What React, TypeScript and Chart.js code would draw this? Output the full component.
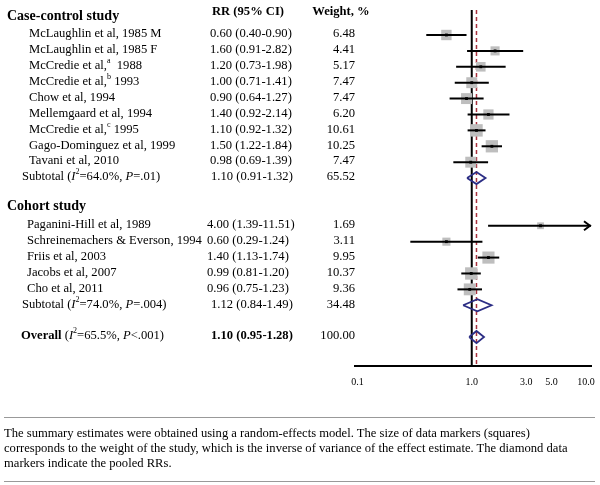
import React, { useEffect, useRef } from "react";
import { Chart, registerables } from "chart.js";

Chart.register(...registerables);

// ---------- data ----------
const caseStudies = [
  "McLaughlin et al, 1985 M",
  "McLaughlin et al, 1985 F",
  "McCredie et al,^a  1988",
  "McCredie et al,^b 1993",
  "Chow et al, 1994",
  "Mellemgaard et al, 1994",
  "McCredie et al,^c 1995",
  "Gago-Dominguez et al, 1999",
  "Tavani et al, 2010",
];
const caseRR = [0.6, 1.6, 1.2, 1.0, 0.9, 1.4, 1.1, 1.5, 0.98];
const caseLower = [0.4, 0.91, 0.73, 0.71, 0.64, 0.92, 0.92, 1.22, 0.69];
const caseUpper = [0.9, 2.82, 1.98, 1.41, 1.27, 2.14, 1.32, 1.84, 1.39];
const caseWeight = [6.48, 4.41, 5.17, 7.47, 7.47, 6.2, 10.61, 10.25, 7.47];
const caseRows = [0, 1, 2, 3, 4, 5, 6, 7, 8];

const cohortStudies = [
  "Paganini-Hill et al, 1989",
  "Schreinemachers & Everson, 1994",
  "Friis et al, 2003",
  "Jacobs et al, 2007",
  "Cho et al, 2011",
];
const cohortRR = [4.0, 0.6, 1.4, 0.99, 0.96];
const cohortLower = [1.39, 0.29, 1.13, 0.81, 0.75];
const cohortUpper = [11.51, 1.24, 1.74, 1.2, 1.23];
const cohortWeight = [1.69, 3.11, 9.95, 10.37, 9.36];
const cohortRows = [12, 13, 14, 15, 16];

const pooledLabels = [
  "Subtotal (*I*^2=64.0%, *P*=.01)",
  "Subtotal (*I*^2=74.0%, *P*=.004)",
  "**Overall** (*I*^2=65.5%, *P*<.001)",
];
const pooledRR = [1.1, 1.12, 1.1];
const pooledLower = [0.91, 0.84, 0.95];
const pooledUpper = [1.32, 1.49, 1.28];
const pooledWeight = [65.52, 34.48, 100.0];
const pooledRows = [9, 17, 19];

const sectionTitles = ["Case-control study", "Cohort study"];
const sectionRows = [-1.2, 10.8];
const columnTitles = ["RR (95% CI)", "Weight, %"];
const columnRow = -1.45;

const xTicks = [0.1, 1, 3, 5, 10];
const nullValue = 1.0;
const pooledLineValue = 1.1;

const footerLines = [
  "The summary estimates were obtained using a random-effects model. The size of data markers (squares)",
  "corresponds to the weight of the study, which is the inverse of variance of the effect estimate. The diamond data",
  "markers indicate the pooled RRs.",
];

// ---------- style / layout ----------
const FONT = '"Liberation Serif", "Times New Roman", serif';
const X_MIN = 0.0951;
const X_MAX = 11.06;
const Y_MIN = -1.572;
const Y_MAX = 20.82;
const DIAMOND_HALF = 0.38;
const NAVY = "#2b2d84";
const RED = "#a8323e";
const GREY = "#bebebe";
const TXT = 12.6;

type Seg = { t: string; b?: boolean; i?: boolean; sup?: boolean };
function parseMarkup(s: string): Seg[] {
  const out: Seg[] = [];
  const re = /\*\*(.+?)\*\*|\*(.+?)\*|\^(.)/g;
  let last = 0;
  let m: RegExpExecArray | null;
  while ((m = re.exec(s))) {
    if (m.index > last) out.push({ t: s.slice(last, m.index) });
    if (m[1] !== undefined) out.push({ t: m[1], b: true });
    else if (m[2] !== undefined) out.push({ t: m[2], i: true });
    else out.push({ t: m[3], sup: true });
    last = re.lastIndex;
  }
  if (last < s.length) out.push({ t: s.slice(last) });
  return out;
}

function drawRich(
  ctx: CanvasRenderingContext2D,
  markup: string,
  x: number,
  y: number,
  size: number,
  opts: { bold?: boolean; align?: "left" | "right" | "center" } = {}
) {
  const segs = parseMarkup(markup);
  const fontOf = (s: Seg) => {
    const sz = s.sup ? Math.round(size * 0.62) : size;
    const b = s.b || opts.bold ? "bold " : "";
    const it = s.i ? "italic " : "";
    return `${it}${b}${sz}px ${FONT}`;
  };
  let total = 0;
  for (const s of segs) {
    ctx.font = fontOf(s);
    total += ctx.measureText(s.t).width;
  }
  let cx = x;
  if (opts.align === "right") cx = x - total;
  else if (opts.align === "center") cx = x - total / 2;
  ctx.textAlign = "left";
  ctx.textBaseline = "middle";
  for (const s of segs) {
    ctx.font = fontOf(s);
    ctx.fillText(s.t, cx, s.sup ? y - size * 0.38 : y);
    cx += ctx.measureText(s.t).width;
  }
}

const fmt = (v: number) => v.toFixed(2);

export default function App() {
  const ref = useRef<HTMLCanvasElement>(null);

  useEffect(() => {
    const studyRR = [...caseRR, ...cohortRR];
    const studyLower = [...caseLower, ...cohortLower];
    const studyUpper = [...caseUpper, ...cohortUpper];
    const studyWeight = [...caseWeight, ...cohortWeight];
    const studyRows = [...caseRows, ...cohortRows];

    const datasets: any[] = [];

    // reference lines
    datasets.push({
      data: [
        { x: nullValue, y: Y_MIN },
        { x: nullValue, y: Y_MAX },
      ],
      showLine: true,
      borderColor: "#000",
      borderWidth: 2,
      pointRadius: 0,
      order: 10,
    });
    datasets.push({
      data: [
        { x: pooledLineValue, y: Y_MIN },
        { x: pooledLineValue, y: Y_MAX },
      ],
      showLine: true,
      borderColor: RED,
      borderWidth: 1.5,
      borderDash: [4, 3],
      pointRadius: 0,
      order: 9,
    });

    // squares (weight-sized)
    datasets.push({
      data: studyRR.map((v, i) => ({ x: v, y: studyRows[i] })),
      pointStyle: "rect",
      pointRadius: studyWeight.map((w) => (3 + 2.9 * Math.sqrt(w)) / Math.SQRT2),
      backgroundColor: GREY,
      borderWidth: 0,
      order: 8,
    });

    // CI lines
    studyRR.forEach((_, i) => {
      datasets.push({
        data: [
          { x: studyLower[i], y: studyRows[i] },
          { x: studyUpper[i], y: studyRows[i] },
        ],
        showLine: true,
        borderColor: "#000",
        borderWidth: 2,
        pointRadius: 0,
        order: 5,
      });
    });

    // centre dots
    datasets.push({
      data: studyRR.map((v, i) => ({ x: v, y: studyRows[i] })),
      pointStyle: "rect",
      pointRadius: 2,
      backgroundColor: "#000",
      borderWidth: 0,
      order: 2,
    });

    // diamonds
    pooledRR.forEach((v, i) => {
      const r = pooledRows[i];
      datasets.push({
        data: [
          { x: pooledLower[i], y: r },
          { x: v, y: r - DIAMOND_HALF },
          { x: pooledUpper[i], y: r },
          { x: v, y: r + DIAMOND_HALF },
          { x: pooledLower[i], y: r },
        ],
        showLine: true,
        borderColor: NAVY,
        borderWidth: 1.8,
        pointRadius: 0,
        fill: false,
        order: 1,
      });
    });

    const textPlugin = {
      id: "forestText",
      afterDraw(chart: any) {
        const ctx: CanvasRenderingContext2D = chart.ctx;
        const ys = (r: number) => chart.scales.y.getPixelForValue(r);
        const xs = chart.scales.x;
        ctx.save();
        ctx.fillStyle = "#000";

        // arrows for CIs beyond axis
        studyUpper.forEach((u, i) => {
          if (u > xs.max) {
            const tx = chart.chartArea.right - 1;
            const ty = ys(studyRows[i]);
            ctx.strokeStyle = "#000";
            ctx.lineWidth = 2;
            ctx.beginPath();
            ctx.moveTo(tx - 6, ty - 4.5);
            ctx.lineTo(tx, ty);
            ctx.lineTo(tx - 6, ty + 4.5);
            ctx.stroke();
          }
        });

        // column headers
        drawRich(ctx, columnTitles[0], 212, ys(columnRow), TXT, { bold: true });
        drawRich(ctx, columnTitles[1], 341, ys(columnRow), TXT, { bold: true, align: "center" });
        // section headers
        sectionTitles.forEach((t, i) => drawRich(ctx, t, 7, ys(sectionRows[i]), 14, { bold: true }));

        caseStudies.forEach((s, i) => {
          const y = ys(caseRows[i]) - 1;
          drawRich(ctx, s, 29, y, TXT);
          drawRich(ctx, `${fmt(caseRR[i])} (${fmt(caseLower[i])}-${fmt(caseUpper[i])})`, 210, y, TXT);
          drawRich(ctx, fmt(caseWeight[i]), 355, y, TXT, { align: "right" });
        });
        cohortStudies.forEach((s, i) => {
          const y = ys(cohortRows[i]) - 1;
          drawRich(ctx, s, 27, y, TXT);
          drawRich(ctx, `${fmt(cohortRR[i])} (${fmt(cohortLower[i])}-${fmt(cohortUpper[i])})`, 207, y, TXT);
          drawRich(ctx, fmt(cohortWeight[i]), 355, y, TXT, { align: "right" });
        });
        pooledLabels.forEach((s, i) => {
          const y = ys(pooledRows[i]) - 1;
          const isOverall = i === pooledLabels.length - 1;
          drawRich(ctx, s, isOverall ? 21 : 22, y, TXT);
          drawRich(ctx, `${fmt(pooledRR[i])} (${fmt(pooledLower[i])}-${fmt(pooledUpper[i])})`, 211, y, TXT, {
            bold: isOverall,
          });
          drawRich(ctx, fmt(pooledWeight[i]), 355, y, TXT, { align: "right" });
        });
        ctx.restore();
      },
    };

    const chart = new Chart(ref.current!, {
      type: "scatter",
      data: { datasets },
      options: {
        responsive: false,
        animation: false,
        devicePixelRatio: 1,
        layout: { padding: { left: 355, right: 9, top: 10, bottom: 99 } },
        plugins: {
          legend: { display: false },
          tooltip: { enabled: false },
        },
        scales: {
          x: {
            type: "logarithmic",
            min: X_MIN,
            max: X_MAX,
            position: "bottom",
            grid: { display: false },
            border: { display: true, color: "#000", width: 2 },
            afterBuildTicks: (scale: any) => {
              scale.ticks = xTicks.map((v) => ({ value: v }));
            },
            afterFit: (scale: any) => {
              scale.height = 20;
            },
            ticks: {
              autoSkip: false,
              maxRotation: 0,
              padding: 2,
              color: "#000",
              font: { family: FONT, size: 10 },
              callback: (v: any) => Number(v).toFixed(1),
            },
          },
          y: {
            type: "linear",
            reverse: true,
            min: Y_MIN,
            max: Y_MAX,
            display: false,
          },
        },
      },
      plugins: [textPlugin],
    } as any);
    return () => chart.destroy();
  }, []);

  return (
    <div
      style={{
        position: "absolute",
        left: 0,
        top: 0,
        width: 600,
        height: 485,
        background: "#fff",
        fontFamily: FONT,
        overflow: "hidden",
      }}
    >
      <canvas
        ref={ref}
        width={600}
        height={485}
        style={{ position: "absolute", left: 0, top: 0, width: 600, height: 485 }}
      />
      <div style={{ position: "absolute", left: 4, top: 417, width: 591, borderTop: "1px solid #999" }} />
      <div
        style={{
          position: "absolute",
          left: 4,
          top: 425.5,
          fontSize: TXT,
          lineHeight: "15px",
          color: "#000",
          whiteSpace: "nowrap",
        }}
      >
        {footerLines.map((l, i) => (
          <div key={i}>{l}</div>
        ))}
      </div>
      <div style={{ position: "absolute", left: 4, top: 481, width: 591, borderTop: "1px solid #999" }} />
    </div>
  );
}
